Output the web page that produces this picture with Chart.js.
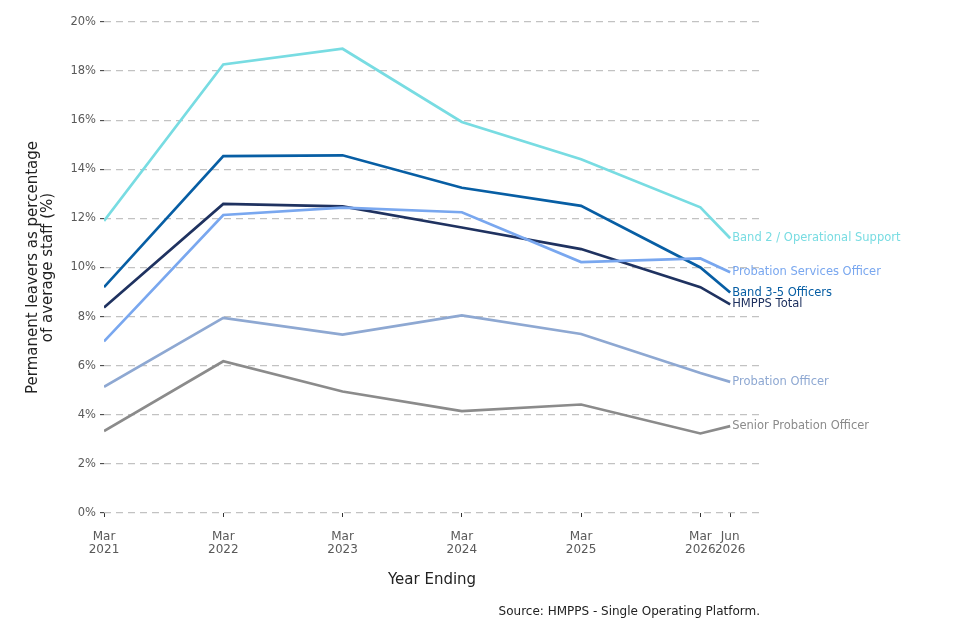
<!DOCTYPE html>
<html>
<head>
<meta charset="utf-8">
<script src="https://cdn.jsdelivr.net/npm/chart.js@4/dist/chart.umd.min.js"></script>
<style>
  html, body { margin: 0; padding: 0; background: #fff; }
  #wrap { width: 960px; height: 640px; position: relative; }
</style>
</head>
<body>
<div id="wrap"><canvas id="leaversChart"></canvas></div>
<script>
// Year ending periods and their offset in quarters from Mar 2021
const periods = ['Mar 2021', 'Mar 2022', 'Mar 2023', 'Mar 2024', 'Mar 2025', 'Mar 2026', 'Jun 2026'];
const quarterOffsets = [0, 4, 8, 12, 16, 20, 21];

// Leaving rate (%) per staff group
const band2Ops = [11.9, 18.27, 18.91, 15.93, 14.41, 12.45, 11.19];
const probServicesOfficer = [6.99, 12.14, 12.44, 12.25, 10.22, 10.37, 9.81];
const band35Officers = [9.2, 14.54, 14.57, 13.25, 12.51, 10.0, 8.98];
const hmppsTotal = [8.37, 12.59, 12.49, 11.63, 10.75, 9.2, 8.5];
const probationOfficer = [5.14, 7.95, 7.27, 8.05, 7.29, 5.7, 5.34];
const seniorProbOfficer = [3.34, 6.18, 4.95, 4.15, 4.42, 3.24, 3.54];

const yTicks = [0, 2, 4, 6, 8, 10, 12, 14, 16, 18, 20];

const FONT = "'DejaVu Sans', sans-serif";

function toPoints(values) {
    return values.map((v, i) => ({ x: quarterOffsets[i], y: v }));
}

function series(label, values, colour) {
    return {
        label: label,
        data: toPoints(values),
        borderColor: colour,
        backgroundColor: colour,
        borderWidth: 2.7,
        pointRadius: 0,
        pointHoverRadius: 0,
        tension: 0,
        fill: false
    };
}

// labels at the line ends, axis titles and source note
const annotations = {
    id: 'annotations',
    afterDatasetsDraw(chart) {
        const ctx = chart.ctx;
        ctx.save();
        ctx.font = '11.5px ' + FONT;
        ctx.textAlign = 'left';
        ctx.textBaseline = 'middle';
        chart.data.datasets.forEach((ds, i) => {
            const pts = chart.getDatasetMeta(i).data;
            const last = pts[pts.length - 1];
            ctx.fillStyle = ds.borderColor;
            ctx.fillText(ds.label, last.x + 2, last.y);
        });
        ctx.restore();

        const area = chart.chartArea;
        ctx.save();
        ctx.fillStyle = '#222';
        ctx.font = '15px ' + FONT;
        ctx.textAlign = 'center';
        ctx.textBaseline = 'middle';
        ctx.fillText('Year Ending', (area.left + area.right) / 2, 580);

        ctx.font = '12px ' + FONT;
        ctx.textAlign = 'right';
        ctx.fillText('Source: HMPPS - Single Operating Platform.', area.right, 612);

        ctx.translate(0, (area.top + area.bottom) / 2);
        ctx.rotate(-Math.PI / 2);
        ctx.font = '15px ' + FONT;
        ctx.textAlign = 'center';
        ctx.textBaseline = 'alphabetic';
        ctx.fillText('Permanent leavers as percentage', 0, 37);
        ctx.fillText('of average staff (%)', 0, 52);
        ctx.restore();
    }
};

const ctx = document.getElementById('leaversChart').getContext('2d');
new Chart(ctx, {
    type: 'line',
    data: {
        datasets: [
            series('Band 2 / Operational Support', band2Ops, '#78dce2'),
            series('Probation Services Officer', probServicesOfficer, '#79a7ef'),
            series('Band 3-5 Officers', band35Officers, '#075ea4'),
            series('HMPPS Total', hmppsTotal, '#1f3260'),
            series('Probation Officer', probationOfficer, '#8ea8d2'),
            series('Senior Probation Officer', seniorProbOfficer, '#8b8b8b')
        ]
    },
    options: {
        responsive: true,
        maintainAspectRatio: false,
        animation: false,
        layout: { padding: { top: 22, right: 200, bottom: 0, left: 0 } },
        plugins: {
            legend: { display: false },
            tooltip: { enabled: false }
        },
        scales: {
            x: {
                type: 'linear',
                min: 0,
                max: 22,
                afterBuildTicks: (scale) => {
                    scale.ticks = quarterOffsets.map(v => ({ value: v }));
                },
                afterFit: (scale) => { scale.height = 127; },
                border: { display: false },
                grid: {
                    drawOnChartArea: false,
                    drawTicks: true,
                    tickLength: 4,
                    tickColor: '#333',
                    tickWidth: 1
                },
                ticks: {
                    autoSkip: false,
                    maxRotation: 0,
                    padding: 13,
                    color: '#595959',
                    font: { family: FONT, size: 12, lineHeight: 1.1 },
                    callback: (value) => {
                        const i = quarterOffsets.indexOf(value);
                        return i >= 0 ? periods[i].split(' ') : '';
                    }
                }
            },
            y: {
                min: 0,
                max: 20,
                afterBuildTicks: (scale) => {
                    scale.ticks = yTicks.map(v => ({ value: v }));
                },
                afterFit: (scale) => { scale.width = 104; },
                border: { display: false, dash: [7, 5] },
                grid: {
                    color: '#c2c2c2',
                    lineWidth: 1.3,
                    tickLength: 4,
                    tickColor: '#333',
                    tickWidth: 1,
                    tickBorderDash: []
                },
                ticks: {
                    padding: 4,
                    color: '#595959',
                    font: { family: FONT, size: 11.5 },
                    callback: (value) => value + '%'
                }
            }
        }
    },
    plugins: [annotations]
});
</script>
</body>
</html>
